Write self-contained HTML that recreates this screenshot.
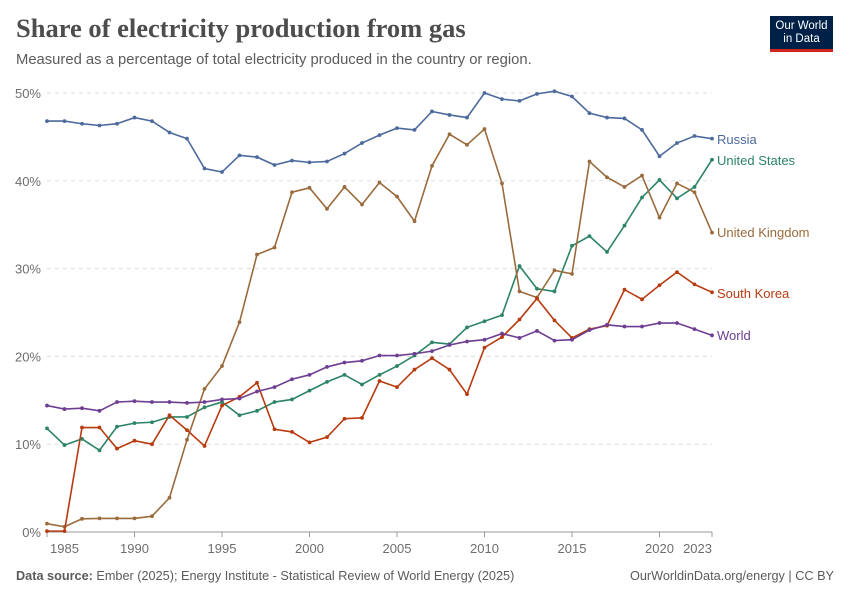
<!DOCTYPE html>
<html><head><meta charset="utf-8">
<style>
body{margin:0;background:#fff;font-family:"Liberation Sans",sans-serif;}
#wrap{position:relative;width:850px;height:600px;overflow:hidden;}
.title{position:absolute;left:16px;top:13px;font-family:"Liberation Serif",serif;font-weight:bold;font-size:26.5px;color:#4d4d4d;}
.sub{position:absolute;left:16px;top:52px;font-size:14.8px;color:#5b5b5b;}
.logo{position:absolute;left:770px;top:16px;width:63px;height:36px;background:#002147;color:#fff;font-size:11.5px;line-height:13px;text-align:center;padding-top:4px;box-sizing:border-box;border-bottom:3px solid #ce261e;}
.foot{position:absolute;top:569px;font-size:12.7px;color:#5b5b5b;}
</style></head><body>
<div id="wrap">
<div class="title">Share of electricity production from gas</div>
<div class="sub">Measured as a percentage of total electricity produced in the country or region.</div>
<div class="logo">Our World<br>in Data</div>
<svg id="chart" width="850" height="600" style="position:absolute;left:0;top:0"></svg>
<div class="foot" style="left:16px"><b>Data source:</b> Ember (2025); Energy Institute - Statistical Review of World Energy (2025)</div>
<div class="foot" style="right:16px">OurWorldinData.org/energy | CC BY</div>
</div>
<script>
const years=[];for(let y=1985;y<=2023;y++)years.push(y);
const yTicks=[0,10,20,30,40,50];
const xTicks=[1985,1990,1995,2000,2005,2010,2015,2020,2023];
const russia=[46.8,46.8,46.5,46.3,46.5,47.2,46.8,45.5,44.8,41.4,41.0,42.9,42.7,41.8,42.3,42.1,42.2,43.1,44.3,45.2,46.0,45.8,47.9,47.5,47.2,50.0,49.3,49.1,49.9,50.2,49.6,47.7,47.2,47.1,45.8,42.8,44.3,45.1,44.8];
const us=[11.8,9.9,10.6,9.3,12.0,12.4,12.5,13.1,13.1,14.2,14.8,13.3,13.8,14.8,15.1,16.1,17.1,17.9,16.8,17.9,18.9,20.1,21.6,21.4,23.3,24.0,24.7,30.3,27.7,27.4,32.6,33.7,31.9,34.9,38.1,40.1,38.0,39.3,42.4];
const uk=[0.95,0.6,1.5,1.55,1.55,1.55,1.8,3.9,10.5,16.3,18.9,23.9,31.6,32.4,38.7,39.2,36.8,39.3,37.3,39.8,38.2,35.4,41.7,45.3,44.1,45.9,39.7,27.4,26.7,29.8,29.4,42.2,40.4,39.3,40.6,35.8,39.7,38.7,34.1];
const korea=[0.1,0.1,11.9,11.9,9.5,10.4,10.0,13.3,11.6,9.8,14.4,15.4,17.0,11.7,11.4,10.2,10.8,12.9,13.0,17.2,16.5,18.5,19.8,18.5,15.7,21.0,22.2,24.2,26.6,24.1,22.1,23.1,23.5,27.6,26.5,28.1,29.6,28.2,27.3];
const world=[14.4,14.0,14.1,13.8,14.8,14.9,14.8,14.8,14.7,14.8,15.1,15.2,16.0,16.5,17.4,17.9,18.8,19.3,19.5,20.1,20.1,20.3,20.6,21.3,21.7,21.9,22.6,22.1,22.9,21.8,21.9,23.0,23.6,23.4,23.4,23.8,23.8,23.1,22.4];
const seriesNames=["Russia","United States","United Kingdom","South Korea","World"];
const seriesData=[russia,us,uk,korea,world];
const colors=["#4c6a9c","#2c8465","#9a6b3c","#b83b10","#6d3e91"];
const labelY=[139,160,232,293,335];
const X0=47,X1=712,Y0=532,Y1=93;
const xs=y=>X0+(y-1985)*(X1-X0)/(2023-1985);
const ys=v=>Y0-v*(Y0-Y1)/50;
const svg=document.getElementById('chart');const NS="http://www.w3.org/2000/svg";
function mk(t,a){const e=document.createElementNS(NS,t);for(const k in a)e.setAttribute(k,a[k]);svg.appendChild(e);return e;}
yTicks.forEach(t=>{
  if(t>0){const g=mk('line',{x1:X0,x2:X1,y1:ys(t),y2:ys(t),stroke:'#dddddd','stroke-dasharray':'4,4'});
  
  }
  const l=mk('text',{x:41,y:ys(t)+5,'text-anchor':'end','font-size':13,fill:'#6e6e6e','font-family':'Liberation Sans, sans-serif'});l.textContent=t+'%';
  
  
});
const ax=mk('line',{x1:X0,x2:X1,y1:Y0,y2:Y0,stroke:'#999'});


xTicks.forEach(t=>{
  const tk=mk('line',{x1:xs(t),x2:xs(t),y1:Y0,y2:Y0+5,stroke:'#999'});
  
  
  let lx=xs(t);let anchor='middle';
  if(t===1985){lx=xs(t)+3;anchor='start';}
  if(t===2023){lx=xs(t);anchor='end';}
  const l=mk('text',{x:lx,y:553,'text-anchor':anchor,'font-size':13,fill:'#6e6e6e','font-family':'Liberation Sans, sans-serif'});l.textContent=t;
  
  
});
seriesData.forEach((d,i)=>{
  const p=mk('polyline',{points:d.map((v,j)=>xs(years[j])+','+ys(v)).join(' '),fill:'none',stroke:colors[i],'stroke-width':1.6});
  
  
  d.forEach((v,j)=>{
    const c=mk('circle',{cx:xs(years[j]),cy:ys(v),r:1.9,fill:colors[i]});
    
    
  });
  const t=mk('text',{x:717,y:labelY[i]+5,'font-size':13,fill:colors[i],'font-family':'Liberation Sans, sans-serif'});t.textContent=seriesNames[i];
  
  
});
</script>
</body></html>
